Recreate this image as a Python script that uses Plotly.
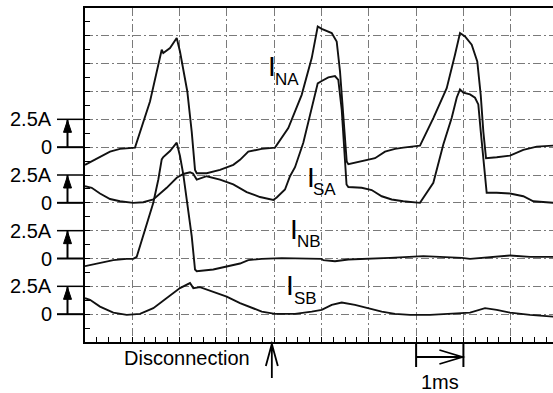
import plotly.graph_objects as go

# ---- measured waveforms: time (ms) and current (A) per channel ----
t_na = [0, 0.317, 0.529, 0.740, 0.951, 1.057, 1.374, 1.622, 1.655, 1.797, 1.939, 2.008,
        2.163, 2.256, 2.326, 2.362, 2.573, 2.854, 3.135, 3.277, 3.452, 3.736, 4.017, 4.298,
        4.581, 4.793, 4.920, 5.004, 5.216, 5.321, 5.391, 5.461, 5.533, 5.567, 5.850, 6.131,
        6.342, 6.554, 6.729, 7.082, 7.364, 7.647, 7.822, 7.928, 8.034, 8.175, 8.293, 8.366,
        8.421, 8.478, 8.704, 8.985, 9.266, 9.550, 9.90]
i_na = [-1.59, -0.85, -0.40, -0.15, -0.09, -0.04, 4.10, 8.75, 8.45, 8.90, 9.80, 8.59,
        5.00, 1.40, -2.04, -2.34, -2.34, -2.04, -1.59, -1.14, -0.40, -0.15, -0.04, 1.71,
        4.70, 8.00, 10.84, 10.63, 10.25, 9.49, 6.80, 2.90, -1.29, -1.53, -1.29, -0.99,
        -0.40, -0.15, -0.04, 0.14, 2.61, 5.30, 8.30, 10.25, 9.94, 9.20, 7.70, 4.70,
        1.40, -0.99, -0.90, -0.76, -0.24, 0.05, 0.14]

t_sa = [0, 0.142, 0.317, 0.529, 0.740, 1.021, 1.233, 1.444, 1.727, 1.939, 2.078, 2.220,
        2.283, 2.362, 2.573, 2.854, 3.135, 3.419, 3.700, 3.981, 4.053, 4.228, 4.334, 4.440,
        4.615, 4.793, 4.920, 5.004, 5.144, 5.285, 5.355, 5.427, 5.482, 5.529, 5.567, 5.850,
        6.061, 6.273, 6.484, 6.729, 7.082, 7.224, 7.364, 7.575, 7.753, 7.858, 7.928, 7.998,
        8.140, 8.245, 8.315, 8.366, 8.421, 8.492, 8.704, 8.985, 9.266, 9.478, 9.90]
i_sa = [1.49, 1.35, 0.84, 0.34, 0.14, 0.00, 0.05, 0.30, 1.35, 2.25, 2.59, 2.75,
        2.63, 2.09, 2.39, 2.09, 1.65, 0.97, 0.52, 0.25, 0.48, 1.20, 2.39, 3.20,
        5.39, 8.39, 10.73, 10.94, 11.27, 11.39, 11.05, 8.39, 4.80, 1.65, 1.42, 1.35,
        1.15, 0.59, 0.30, 0.14, 0.00, 0.90, 1.80, 5.24, 7.64, 9.44, 10.19, 9.89,
        9.74, 9.44, 8.84, 6.44, 3.74, 0.90, 0.90, 0.84, 0.59, 0.14, 0.00]

t_nb = [0, 0.317, 0.598, 0.882, 1.021, 1.093, 1.304, 1.444, 1.550, 1.622, 1.655, 1.797,
        1.939, 2.008, 2.078, 2.150, 2.256, 2.326, 2.362, 2.712, 2.996, 3.277, 3.452, 3.736,
        4.159, 4.581, 5.004, 5.038, 5.285, 5.567, 5.989, 6.448, 7.152, 7.505, 7.964, 8.140,
        8.562, 8.985, 9.408, 9.90]
i_nb = [-0.69, -0.39, -0.15, -0.03, -0.03, 0.15, 3.21, 5.01, 7.10, 8.90, 9.11, 9.65,
        10.40, 9.20, 7.55, 5.30, 2.00, -0.99, -1.14, -0.99, -0.69, -0.45, -0.15, -0.03,
        0.03, -0.03, -0.03, -0.15, -0.24, -0.09, -0.03, 0.06, 0.21, 0.15, 0.06, -0.03,
        0.15, 0.27, 0.15, 0.15]

t_sb = [0, 0.106, 0.317, 0.598, 0.882, 1.163, 1.444, 1.727, 2.008, 2.220, 2.290, 2.431,
        2.712, 2.996, 3.277, 3.452, 3.736, 4.017, 4.440, 4.793, 5.004, 5.216, 5.427, 5.708,
        5.989, 6.273, 6.554, 6.871, 7.294, 7.858, 8.140, 8.457, 8.704, 8.985, 9.408, 9.90]
i_sb = [1.44, 1.29, 0.68, 0.14, -0.06, 0.03, 0.54, 1.44, 2.34, 2.79, 2.34, 2.43,
        2.03, 1.58, 0.99, 0.68, 0.23, 0.03, 0.03, 0.23, 0.39, 0.84, 1.04, 0.84,
        0.54, 0.23, 0.03, -0.06, -0.06, 0.09, 0.14, 0.54, 0.39, 0.14, -0.06, -0.22]

# channel names (subscripts), vertical zero offsets on the stacked display (A)
channels = ["NA", "SA", "NB", "SB"]
offsets = [15.0, 10.0, 5.0, 0.0]
scale_label = "2.5A"
scale_amps = 2.5

# label anchor for each channel: (time of "I", level of "I", time of subscript, level of subscript)
label_pos = {
    "NA": (3.95, 22.25, 4.28, 21.05),
    "SA": (4.77, 12.30, 5.07, 11.20),
    "NB": (4.42, 7.65, 4.74, 6.55),
    "SB": (4.33, 2.55, 4.67, 1.40),
}

disconnect_time = 3.95
ms_bar = (7.0, 8.0)
ms_label = "1ms"

series = {"NA": (t_na, i_na), "SA": (t_sa, i_sa), "NB": (t_nb, i_nb), "SB": (t_sb, i_sb)}

FONT = "Arial, Liberation Sans, sans-serif"
fig = go.Figure()

for name, off in zip(channels, offsets):
    t, i = series[name]
    fig.add_trace(go.Scatter(
        x=t, y=[v + off for v in i], mode="lines",
        line=dict(color="#111111", width=1.9),
        showlegend=False, hoverinfo="skip"))

annotations = []
shapes = []

for name, off in zip(channels, offsets):
    # channel name: large I with small subscript
    xi, yi, xs, ys = label_pos[name]
    annotations.append(dict(x=xi, y=yi, xref="x", yref="y", text="I", showarrow=False,
                            font=dict(family=FONT, size=28, color="black"),
                            xanchor="center", yanchor="middle"))
    annotations.append(dict(x=xs, y=ys, xref="x", yref="y", text=name, showarrow=False,
                            font=dict(family=FONT, size=17, color="black"),
                            xanchor="center", yanchor="middle"))
    # scale marker on the left: "2.5A" and "0" with bars and an up arrow
    top = off + scale_amps
    annotations.append(dict(x=0, y=top, xref="paper", yref="y", text=scale_label,
                            showarrow=False, xanchor="right", yanchor="middle", xshift=-31,
                            font=dict(family=FONT, size=20, color="black")))
    annotations.append(dict(x=0, y=off, xref="paper", yref="y", text="0",
                            showarrow=False, xanchor="right", yanchor="middle", xshift=-31,
                            font=dict(family=FONT, size=20, color="black")))
    for lvl, w in ((top, 1.5), (off, 2)):
        shapes.append(dict(type="line", xref="paper", yref="y", xsizemode="pixel", xanchor=0,
                           x0=-28, x1=0, y0=lvl, y1=lvl, line=dict(color="black", width=w)))
    shapes.append(dict(type="line", xref="paper", yref="y", xsizemode="pixel", xanchor=0,
                       x0=-17.5, x1=-17.5, y0=off, y1=top, line=dict(color="black", width=2)))
    shapes.append(dict(type="path", xref="paper", yref="y", xsizemode="pixel", xanchor=0,
                       ysizemode="pixel", yanchor=top,
                       path="M-21.5,-13 L-17.5,-1 L-13.5,-13 Z",
                       fillcolor="black", line=dict(color="black", width=1)))

# disconnection instant
annotations.append(dict(x=disconnect_time, y=0, xref="x", yref="paper", text="Disconnection",
                        showarrow=False, xanchor="right", yanchor="middle", xshift=-20, yshift=-16,
                        font=dict(family=FONT, size=20, color="black")))
shapes.append(dict(type="path", xref="x", yref="paper", xsizemode="pixel", ysizemode="pixel",
                   xanchor=disconnect_time, yanchor=0,
                   path="M0,-2 L0,-36 M-6,-24 L0,-2 L6,-24",
                   line=dict(color="black", width=1.8)))

# 1 ms time scale bar
for xb in ms_bar:
    shapes.append(dict(type="line", xref="x", yref="paper", ysizemode="pixel", yanchor=0,
                       x0=xb, x1=xb, y0=0, y1=-25, line=dict(color="black", width=2)))
shapes.append(dict(type="line", xref="x", yref="paper", ysizemode="pixel", yanchor=0,
                   x0=ms_bar[0], x1=ms_bar[1], y0=-15, y1=-15, line=dict(color="black", width=2)))
shapes.append(dict(type="path", xref="x", yref="paper", xsizemode="pixel", ysizemode="pixel",
                   xanchor=ms_bar[1], yanchor=0,
                   path="M-24,-8 L-1,-15 L-24,-22",
                   line=dict(color="black", width=1.8)))
annotations.append(dict(x=(ms_bar[0] + ms_bar[1]) / 2, y=0, xref="x", yref="paper", text=ms_label,
                        showarrow=False, xanchor="center", yanchor="middle", yshift=-40,
                        font=dict(family=FONT, size=20, color="black")))

grid = dict(showgrid=True, gridcolor="#7a7a7a", gridwidth=1, griddash="8px,3px,2px,3px",
            zeroline=False, showticklabels=False, showline=True, linecolor="black",
            linewidth=1.5, ticks="inside", ticklen=5, tickcolor="black", tickwidth=1)

fig.update_layout(
    width=553, height=393,
    margin=dict(l=85, r=0, t=8, b=51),
    paper_bgcolor="white", plot_bgcolor="white",
    xaxis=dict(range=[0, 9.894], tick0=0, dtick=1, mirror=True,
               minor=dict(dtick=0.25, ticks="inside", ticklen=5, tickcolor="black", showgrid=False),
               **grid),
    yaxis=dict(range=[-2.5, 27.5], tick0=-2.5, dtick=2.5,
               minor=dict(dtick=1.25, ticks="inside", ticklen=5, tickcolor="black", showgrid=False),
               **grid),
    annotations=annotations,
    shapes=shapes,
)

fig.write_html("out.html")
